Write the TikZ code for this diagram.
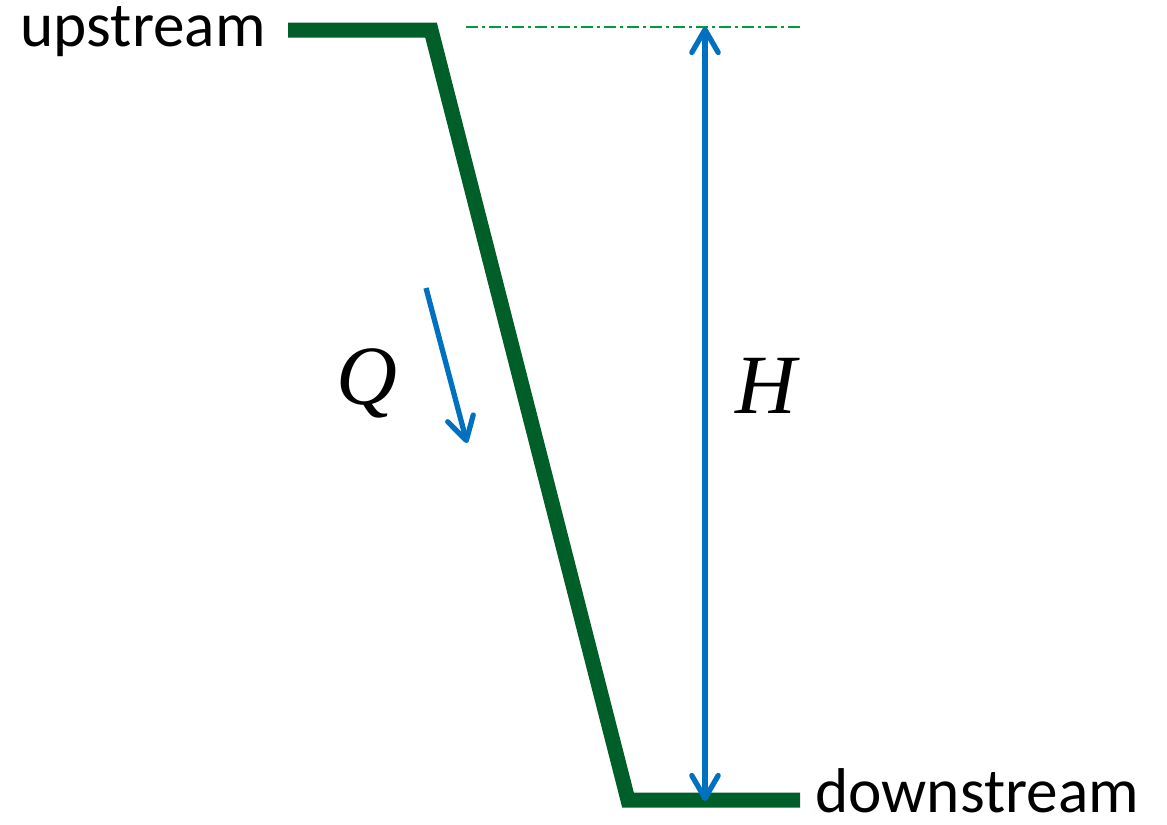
\documentclass[tikz,border=0pt]{standalone}
\usepackage{fontspec}
\setmainfont{Carlito}
\newfontfamily\timesfont{Liberation Serif}
\usetikzlibrary{arrows.meta}

\definecolor{bedGreen}{RGB}{0,94,40}
\definecolor{levelGreen}{RGB}{0,155,65}
\definecolor{flowBlue}{RGB}{0,112,192}

\tikzset{
  bed/.style={line width=0.3cm, bedGreen, line join=miter},
  level/.style={line width=1.1pt, levelGreen, dash pattern=on 0.24cm off 0.08cm on 0.06cm off 0.08cm},
  flow/.style={line width=3pt, flowBlue, -{Straight Barb[length=13pt, width=15pt, round]}},
  sidelabel/.style={font=\fontsize{36}{40}\selectfont, inner sep=0pt},
  symlabel/.style={font=\fontsize{48}{52}\selectfont\timesfont\itshape, inner sep=0pt}
}

\begin{document}
\begin{tikzpicture}[x=0.02cm, y=-0.02cm]

  \useasboundingbox (0,0) rectangle (1167,825);

  % -- River bed profile --
  \coordinate (upStart) at (288,30);
  \coordinate (upCorner) at (431,30);
  \coordinate (downCorner) at (628,800);
  \coordinate (downEnd) at (800,800);
  \draw[bed] (upStart) -- (upCorner) -- (downCorner) -- (downEnd);

  % -- Upstream water level --
  \coordinate (levelL) at (466,27);
  \coordinate (levelR) at (802,27);
  \draw[level] (levelL) -- (levelR);

  % -- Head --
  \coordinate (headTop) at (705,27);
  \coordinate (headBot) at (705,801);
  \draw[flow, {Straight Barb[length=13pt, width=15pt, round]}-{Straight Barb[length=13pt, width=15pt, round]}] (headTop) -- (headBot);
  \node[symlabel] (hLabel) at (766,386) {H};

  % -- Discharge --
  \coordinate (qStart) at (426,288);
  \coordinate (qEnd) at (467,443);
  \draw[flow] (qStart) -- (qEnd);
  \node[symlabel] (qLabel) at (367,383) {Q};

  % Port labels
  \node[sidelabel, anchor=base east] (upLabel) at (266,46) {upstream};
  \node[sidelabel, anchor=base west] (downLabel) at (815,812) {downstream};

\end{tikzpicture}
\end{document}
